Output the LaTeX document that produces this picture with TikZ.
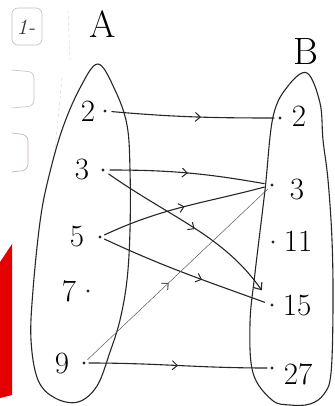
\documentclass[tikz,border=0pt]{standalone}
\usepackage{tikz}
\usetikzlibrary{arrows.meta,decorations.markings}

\begin{document}
\begin{tikzpicture}[x=1pt,y=1pt,line cap=round,line join=round,
  pen/.style={line width=1.1pt, draw=black!85},
  thinpen/.style={line width=0.5pt, draw=black!65},
  elt/.style={circle, fill=black!85, inner sep=0pt, minimum size=3.4pt},
  num/.style={font=\fontsize{31}{33}\selectfont, inner sep=0pt},
  setname/.style={font=\fontsize{38}{40}\selectfont, inner sep=0pt},
  midtip/.style={postaction={decorate}, decoration={markings,
    mark=at position #1 with {\arrow{Straight Barb[length=5pt,width=9pt,line width=1pt]}}}},
  midtip/.default=0.5,
  margin/.style={draw=black!25, line width=0.6pt, rounded corners=6pt}]
  \useasboundingbox (0,0) rectangle (334,-406);
  % page margin bits
  \fill[red!90!black] (0,-262) -- (12,-244) -- (12,-395) -- (0,-398) -- cycle;
  \draw[margin] (12,-8) rectangle (42,-45);
  \node[font=\fontsize{22}{24}\selectfont\itshape, text=black!80] (qno) at (26,-27) {1-};
  \draw[margin] (12,-70) -- (34,-72) -- (34,-106) -- (12,-108);
  \draw[margin, draw=red!30!black!35] (12,-133) -- (28,-135) -- (28,-170) -- (12,-172);
  \draw[black!20, dashed] (68,-10) -- (70,-60);
  \draw[black!20, dashed] (62,-78) -- (55,-150);
  % the two sets
  \draw[pen] plot[smooth cycle, tension=0.6] coordinates {(98,-64) (115,-90) (127,-125) (130,-170)
    (130,-230) (127,-280) (120,-320) (110,-352) (97,-386) (78,-402) (55,-398) (38,-380)
    (31,-340) (33,-290) (40,-222) (48,-180) (62,-130) (80,-88)};
  \draw[pen] plot[smooth cycle, tension=0.6] coordinates {(307,-73) (320,-103) (323,-140)
    (328,-180) (332,-240) (333,-307) (331,-373) (324,-394) (310,-404) (290,-405) (272,-400)
    (253,-373) (250,-323) (255,-273) (265,-190) (273,-117) (288,-86)};
  \node[setname] (nameA) at (103,-24) {A};
  \node[setname] (nameB) at (306,-52) {B};
  % elements
  \foreach \nm/\x/\y/\dx in {2/105/111/-17, 3/103/170/-21, 5/100/237/-23, 7/88/291/-19, 9/84/363/-22}{
    \node[elt] (a\nm) at (\x,-\y) {};
    \node[num] (la\nm) at (\x+\dx,-\y) {\nm};
  }
  \foreach \nm/\x/\y/\lx/\ly in {2/280/118/299/116, 3/272/185/297/190, 11/273/242/298/241,
    15/272/305/297/305, 27/272/368/298/374}{
    \node[elt] (b\nm) at (\x,-\y) {};
    \node[num] (lb\nm) at (\lx,-\ly) {\nm};
  }
  % the mapping
  \draw[pen, midtip=0.55, shorten <=5pt, shorten >=4pt] (a2) to[out=-5, in=180] (b2);
  \draw[pen, midtip=0.5, shorten <=5pt, shorten >=6pt] (a3) to[out=0, in=170] (b3);
  \draw[pen, midtip=0.5, shorten <=3pt, shorten >=6pt] (a5) to[out=25, in=195] (b3);
  \draw[pen, midtip=0.5, -{Straight Barb[length=6pt,width=10pt]}, shorten <=5pt, shorten >=16pt]
    (a3) to[out=-35, in=125] (b15);
  \draw[pen, midtip=0.6, shorten <=3pt, shorten >=6pt] (a5) to[out=-25, in=160] (b15);
  \draw[thinpen, midtip=0.45, shorten <=3pt, shorten >=4pt] (a9) -- (b3);
  \draw[pen, midtip=0.5, shorten <=3pt, shorten >=3pt] (a9) to[out=0, in=180] (b27);
\end{tikzpicture}
\end{document}
